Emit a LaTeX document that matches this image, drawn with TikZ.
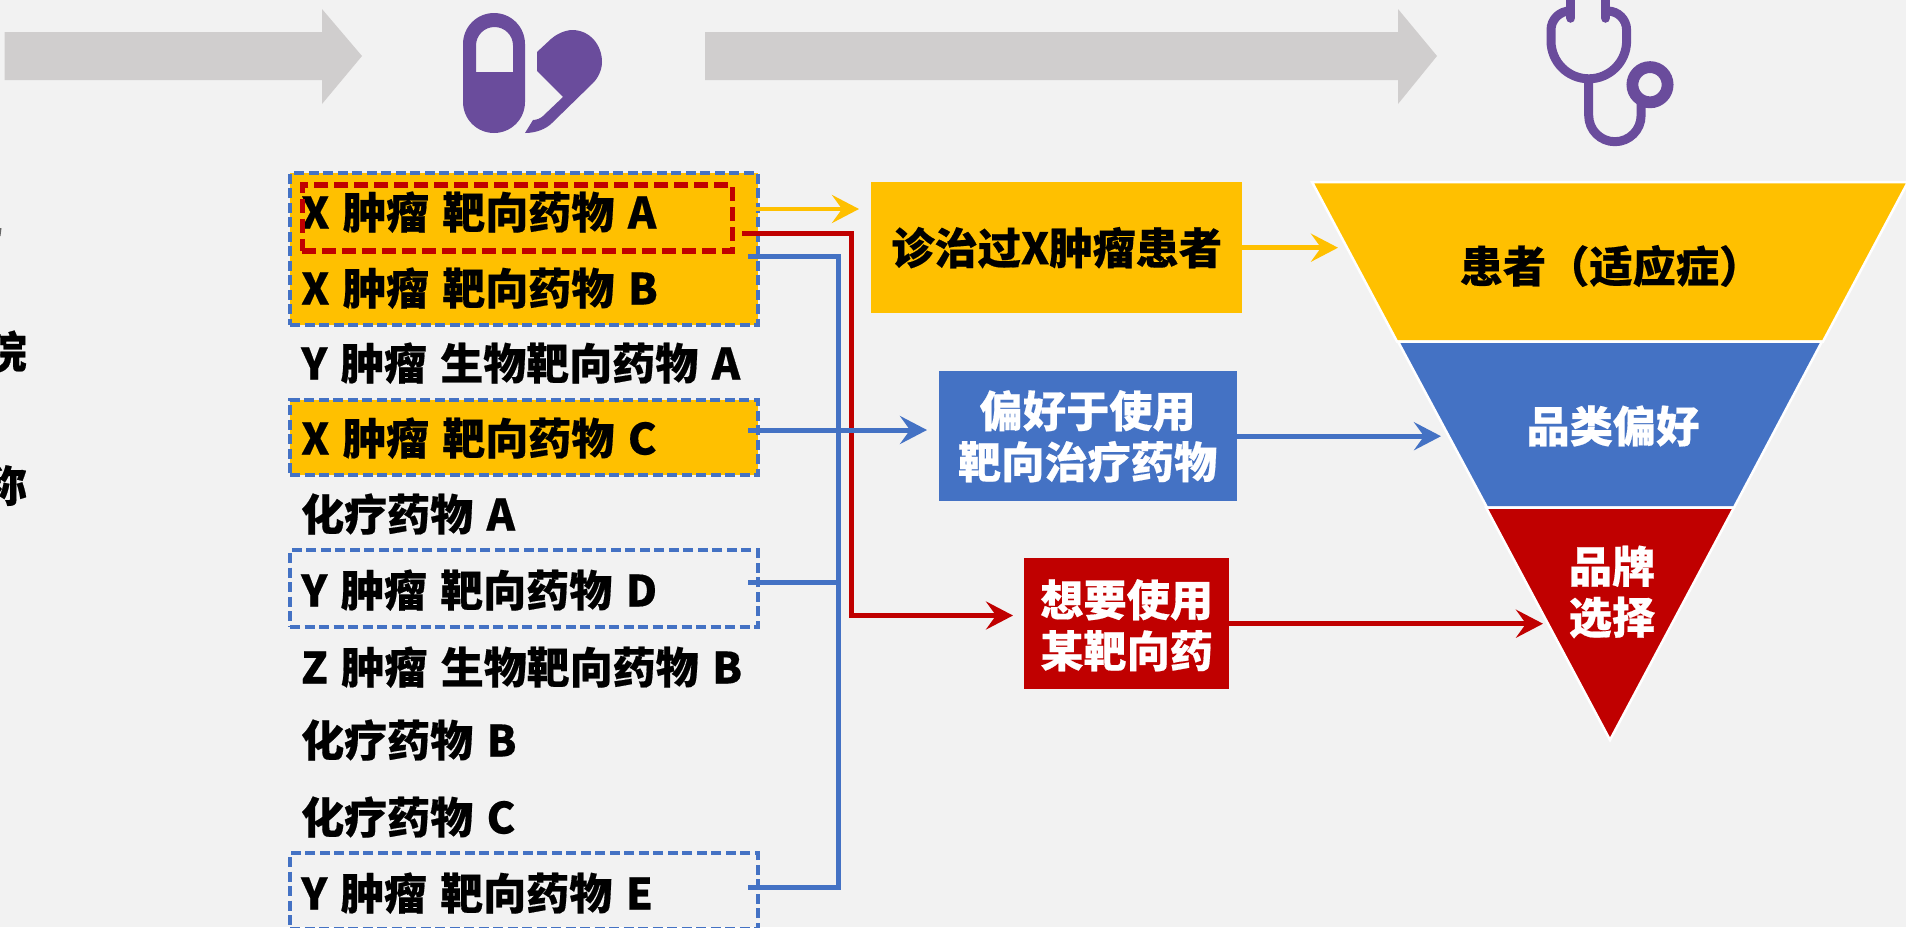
\documentclass[tikz,border=0pt]{standalone}
\usepackage{fontspec}
\setmainfont{Noto Sans CJK SC}[BoldFeatures={FakeBold=0.4}]
\usetikzlibrary{arrows.meta}
\definecolor{bgc}{HTML}{F2F2F2}
\definecolor{yel}{HTML}{FFC000}
\definecolor{blu}{HTML}{4472C4}
\definecolor{rd}{HTML}{C00000}
\definecolor{gry}{HTML}{D0CECE}
\definecolor{pur}{HTML}{6A4C9C}
\newcommand{\rowfont}{\fontsize{43}{51}\selectfont\bfseries\spaceskip 13.5pt\relax}
\tikzset{
  x=1pt,y=-1pt,
  txt/.style={inner sep=0pt,font=\fontsize{43.2}{51}\selectfont\bfseries,align=center},
  row/.style={inner sep=0pt,font=\rowfont,anchor=base west,yshift=-1.5pt},
  groupbox/.style={draw=blu,line width=4pt,dash pattern=on 10pt off 4.5pt,inner sep=0pt,anchor=north west},
  pick/.style={draw=rd,line width=5.5pt,dash pattern=on 14pt off 6pt,inner sep=0pt,anchor=north west},
  solidbox/.style={inner sep=0pt,anchor=north west},
  tip/.style={-{Stealth[length=27pt,width=28pt,inset=10pt]}},
  arrY/.style={tip,draw=yel,line width=4.5pt},
  arrB/.style={tip,draw=blu,line width=5pt},
  arrR/.style={tip,draw=rd,line width=5pt},
  busB/.style={draw=blu,line width=5pt,line join=miter},
  seg/.style={draw=white,line width=2.5pt,line join=miter},
  bigarrow/.style={fill=gry},
}
\begin{document}
\begin{tikzpicture}
\useasboundingbox (0,0) rectangle (1906,927);
\fill[bgc] (0,0) rectangle (1906,927);
\clip (0,0) rectangle (1906,927);

% grey arrows
\fill[bigarrow] (4.5,32) -- (322,32) -- (322,9) -- (362,56) -- (322,104) -- (322,80) -- (4.5,80) -- cycle;
\fill[bigarrow] (705,32) -- (1398,32) -- (1398,9) -- (1437,56) -- (1398,104) -- (1398,80) -- (705,80) -- cycle;

% pill icon
\fill[pur,even odd rule] (463,44) arc[start angle=180,end angle=0,x radius=31,y radius=-31]
  -- (525,102) arc[start angle=0,end angle=180,x radius=31,y radius=31] -- cycle
  (476,72) -- (476,45.5) arc[start angle=180,end angle=0,x radius=18.5,y radius=-18.5] -- (513,72) -- cycle;
\fill[pur] (537,52) -- (551,39) .. controls (560,31) and (570,30) .. (572,30)
  .. controls (590,30) and (602,45) .. (602,62)
  .. controls (602,70) and (598,78) .. (593,83)
  -- (552,123) .. controls (546,129) and (536,133) .. (525,133)
  -- (533,120) .. controls (537,120) and (541,118) .. (543,116)
  -- (563,97) -- (537,71) -- cycle;

% stethoscope
\draw[pur,line width=9pt] (1570,11) arc[start angle=90,end angle=180,x radius=19,y radius=-19] -- (1551,41)
  arc[start angle=180,end angle=360,x radius=37.8,y radius=-37.8] -- (1626.6,30)
  arc[start angle=0,end angle=90,x radius=19,y radius=-19];
\draw[pur,line width=9.5pt,line cap=round] (1570.7,-5) -- (1570.7,18);
\draw[pur,line width=9.5pt,line cap=round] (1605.5,-5) -- (1605.5,18);
\draw[pur,line width=9pt] (1588.7,79) -- (1588.7,115.5)
  arc[start angle=180,end angle=360,x radius=26.2,y radius=-26.2] -- (1641,100);
\draw[pur,line width=11.8pt] (1650,84.7) circle[radius=17.6];

% clipped labels at the left edge
\node[txt,anchor=base east] (cutA) at (27,368) {院};
\node[txt,anchor=base east] (cutB) at (27,502) {称};
\fill[black!60] (0,228) -- (1.5,228) -- (0.5,236) -- (0,236) -- cycle;

% highlighted groups behind the rows
\node[groupbox,fill=yel,minimum width=467.5pt,minimum height=152pt] (g1) at (288,171) {};
\node[groupbox,fill=yel,minimum width=467.5pt,minimum height=75pt] (g2) at (288,398) {};
\node[groupbox,minimum width=467.5pt,minimum height=77pt] (g3) at (288,548) {};
\node[groupbox,minimum width=467.5pt,minimum height=76pt] (g4) at (288,851) {};

% rows
\node[row] (r1) at (301,227) {X 肿瘤 靶向药物 A};
\node[row] (r2) at (301,303) {X 肿瘤 靶向药物 B};
\node[row] (r3) at (301,378) {Y 肿瘤 生物靶向药物 A};
\node[row] (r4) at (301,453) {X 肿瘤 靶向药物 C};
\node[row] (r5) at (301,529) {化疗药物 A};
\node[row] (r6) at (301,605) {Y 肿瘤 靶向药物 D};
\node[row] (r7) at (301,682) {Z 肿瘤 生物靶向药物 B};
\node[row] (r8) at (301,755) {化疗药物 B};
\node[row] (r9) at (301,832) {化疗药物 C};
\node[row] (r10) at (301,908) {Y 肿瘤 靶向药物 E};
\node[pick,minimum width=430pt,minimum height=66pt] (sel) at (299.5,182) {};

% middle boxes
\node[solidbox,fill=yel,minimum width=371pt,minimum height=131pt] (mY) at (871,182) {};
\node[txt] at (mY.center) {诊治过X肿瘤患者};
\node[solidbox,fill=blu,minimum width=298pt,minimum height=130pt] (mB) at (938.5,371) {};
\node[txt,text=white] at (mB.center) {偏好于使用\\靶向治疗药物};
\node[solidbox,fill=rd,minimum width=205pt,minimum height=131pt] (mR) at (1024,558) {};
\node[txt,text=white] at ([yshift=-1.5pt]mR.center) {想要使用\\某靶向药};

% funnel
\filldraw[seg,fill=yel] (1312,182) -- (1908,182) -- (1823,341.5) -- (1397,341.5) -- cycle;
\filldraw[seg,fill=blu] (1398,341.5) -- (1822,341.5) -- (1734,507.5) -- (1487,507.5) -- cycle;
\filldraw[seg,fill=rd] (1486,507.5) -- (1734,507.5) -- (1610,740) -- cycle;
\node[txt] (fY) at (1611,266) {患者（适应症）};
\node[txt,text=white] (fB) at (1613,426) {品类偏好};
\node[txt,text=white] (fR) at (1612,592) {品牌\\选择};

% connector ends
\coordinate (sY) at (756,209);
\coordinate (sR) at (742,233);
\coordinate (sB1) at (748,256);
\coordinate (sB2) at (748,430);
\coordinate (sB3) at (748,582);
\coordinate (sB4) at (748,887);
\coordinate (busX) at (838,0);
\coordinate (redX) at (851,0);
\coordinate (tY) at (1338,0);
\coordinate (tB) at (1441,0);
\coordinate (tR) at (1543,0);

% connectors
\draw[busB] (sB1) -- (sB1 -| busX) -- (sB4 -| busX) -- (sB4);
\draw[busB] (sB3) -- (sB3 -| busX);
\draw[arrR,line join=miter] (sR) -- (sR -| redX) -- (redX |- 0,615.5) -- (1013,615.5);
\draw[arrB,shorten >=11.5pt] (sB2) -- (sB2 -| mB.west);
\draw[arrY,shorten >=12pt] (sY) -- (sY -| mY.west);
\draw[arrY] (mY.east) -- (tY |- mY.east);
\draw[arrB] (mB.east) -- (tB |- mB.east);
\draw[arrR] (mR.east) -- (tR |- mR.east);
\end{tikzpicture}
\end{document}
